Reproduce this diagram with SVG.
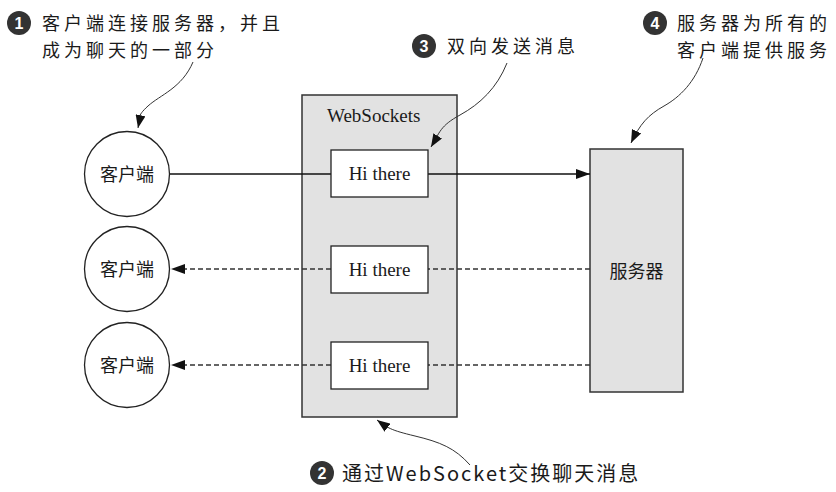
<svg xmlns="http://www.w3.org/2000/svg" width="836" height="492" viewBox="0 0 836 492">
<style>
.box{fill:#e2e2e2;stroke:#333;stroke-width:1.5}
.msg{fill:#fff;stroke:#222;stroke-width:1.3}
.cl{fill:#fff;stroke:#222;stroke-width:1.3}
.serif{font-family:"Liberation Serif","Noto Sans CJK SC",serif;font-size:19px;fill:#1a1a1a}
.cjk{font-family:"Noto Sans CJK SC","Liberation Sans",sans-serif;font-size:18px;fill:#1a1a1a}
.ann{font-family:"Noto Sans CJK SC","Liberation Sans",sans-serif;font-size:18px;fill:#1a1a1a;letter-spacing:4px}
.num{font-family:"Liberation Sans",sans-serif;font-size:16px;font-weight:bold;fill:#fff;text-anchor:middle}
.solid{stroke:#111;stroke-width:1.4;fill:none}
.dash{stroke:#333;stroke-width:1.4;fill:none;stroke-dasharray:5 3}
.cur{stroke:#333;stroke-width:1;fill:none}
</style>
<defs>
<marker id="ah" markerWidth="14" markerHeight="10" refX="14" refY="5" orient="auto" markerUnits="userSpaceOnUse">
<path d="M0,0 L14,5 L0,10 Z" fill="#111"/>
</marker>
<marker id="ahs" markerWidth="13" markerHeight="10" refX="13" refY="5" orient="auto" markerUnits="userSpaceOnUse">
<path d="M0,0 L13,5 L0,10 Z" fill="#111"/>
</marker>
</defs>

<g id="websockets">
<rect class="box" x="302" y="95" width="155" height="322"/>
<text class="serif" x="327" y="122">WebSockets</text>
</g>

<g id="server">
<rect class="box" x="590" y="149" width="93" height="243"/>
<text class="cjk" x="636.5" y="278" text-anchor="middle">服务器</text>
</g>

<g id="connectors">
<line class="solid" x1="170" y1="174" x2="331" y2="174"/>
<line class="solid" x1="428" y1="174" x2="590" y2="174" marker-end="url(#ah)"/>
<line class="dash" x1="590" y1="269" x2="428" y2="269"/>
<line class="dash" x1="331" y1="269" x2="171" y2="269" marker-end="url(#ah)"/>
<line class="dash" x1="590" y1="365" x2="428" y2="365"/>
<line class="dash" x1="331" y1="365" x2="171" y2="365" marker-end="url(#ah)"/>
<path class="cur" d="M193,62 C182,88 160,95 148,106 S140,118 138,128" marker-end="url(#ahs)"/>
<path class="cur" d="M507,63 C497,88 480,104 460,115 S440,132 431,147" marker-end="url(#ahs)"/>
<path class="cur" d="M703,58 C695,82 680,97 664,106 S640,124 631,143" marker-end="url(#ahs)"/>
<path class="cur" d="M470,465 C455,448 440,442 415,436 S388,428 377,420" marker-end="url(#ahs)"/>
</g>

<g id="msg1">
<rect class="msg" x="331" y="150" width="97" height="47"/>
<text class="serif" x="379.5" y="180" text-anchor="middle">Hi there</text>
</g>
<g id="msg2">
<rect class="msg" x="331" y="246" width="97" height="47"/>
<text class="serif" x="379.5" y="276" text-anchor="middle">Hi there</text>
</g>
<g id="msg3">
<rect class="msg" x="331" y="342" width="97" height="47"/>
<text class="serif" x="379.5" y="372" text-anchor="middle">Hi there</text>
</g>

<g id="client1">
<circle class="cl" cx="127" cy="174" r="42.5"/>
<text class="cjk" x="127" y="180.5" text-anchor="middle">客户端</text>
</g>
<g id="client2">
<circle class="cl" cx="127" cy="269" r="42.5"/>
<text class="cjk" x="127" y="275.5" text-anchor="middle">客户端</text>
</g>
<g id="client3">
<circle class="cl" cx="127" cy="365" r="42.5"/>
<text class="cjk" x="127" y="371.5" text-anchor="middle">客户端</text>
</g>

<g id="note1">
<circle cx="19" cy="23" r="12" fill="#333"/>
<text class="num" x="19" y="29">1</text>
<text class="ann" x="42" y="30">客户端连接服务器，并且</text>
<text class="ann" x="42" y="57">成为聊天的一部分</text>
</g>
<g id="note2">
<circle cx="322" cy="473" r="12" fill="#333"/>
<text class="num" x="322" y="479">2</text>
<text class="ann" x="342" y="481" style="font-size:20px;letter-spacing:2px">通过WebSocket交换聊天消息</text>
</g>
<g id="note3">
<circle cx="424" cy="46" r="12" fill="#333"/>
<text class="num" x="424" y="52">3</text>
<text class="ann" x="447" y="53">双向发送消息</text>
</g>
<g id="note4">
<circle cx="655" cy="23" r="12" fill="#333"/>
<text class="num" x="655" y="29">4</text>
<text class="ann" x="677" y="30">服务器为所有的</text>
<text class="ann" x="677" y="57">客户端提供服务</text>
</g>
</svg>
